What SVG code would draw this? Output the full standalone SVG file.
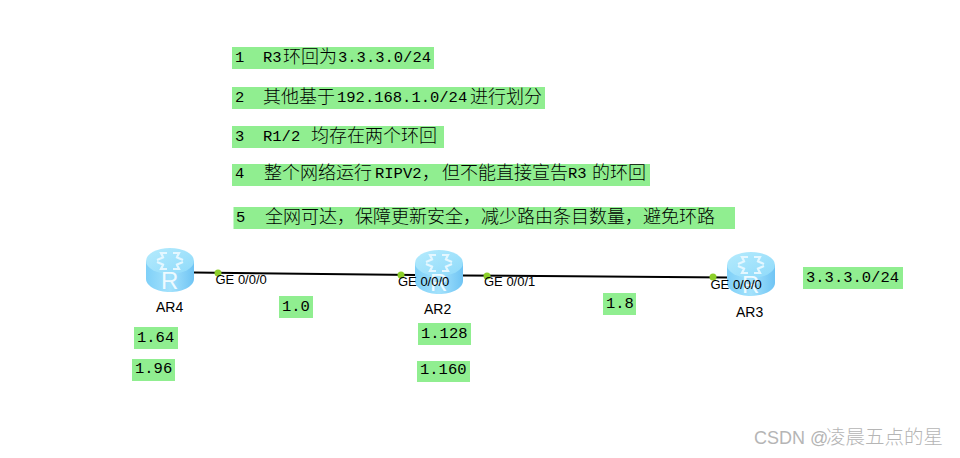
<svg xmlns="http://www.w3.org/2000/svg" xmlns:xlink="http://www.w3.org/1999/xlink" width="960" height="458" viewBox="0 0 960 458">
<style>
.hl{fill:#90ee90}
.m{font-family:"Liberation Mono","Noto Sans CJK SC",monospace;font-size:15.5px;fill:#000}
.c{font-family:"Noto Sans CJK SC","Liberation Mono",sans-serif;font-size:18px;font-weight:300;fill:#000}
.s{font-family:"Liberation Sans",Arial,sans-serif;fill:#000}
.ge{font-size:13px}
.ar{font-size:14px}
.link{stroke:#000;stroke-width:2;fill:none}
.dot{fill:#8ccf2a}
.wm{font-family:"Liberation Sans","Noto Sans CJK SC",sans-serif;font-size:18px;fill:#b5b5b5}
.wc{font-size:19.5px;font-weight:300}
.arw{fill:none;stroke:#e4f7ff;stroke-width:2.2}
.rl{font-family:"Liberation Sans",Arial,sans-serif;font-size:24px;fill:#eefaff}
</style>
<defs>
<linearGradient id="body" x1="0" x2="1" y1="0" y2="0">
<stop offset="0" stop-color="#7fd0f8"/><stop offset="0.5" stop-color="#a4e2fc"/><stop offset="1" stop-color="#6fc4f4"/>
</linearGradient>
<linearGradient id="top" x1="0" x2="1" y1="0" y2="1">
<stop offset="0" stop-color="#b5ebfd"/><stop offset="1" stop-color="#8fdafa"/>
</linearGradient>
<g id="router">
<path d="M0 13V31C0 38 11 44 24 44S48 38 48 31V13Z" fill="url(#body)"/>
<ellipse cx="24" cy="13" rx="24" ry="13" fill="url(#top)"/>
<path class="arw" d="M21 5h-6l2 4M27 5h6l-2 4M11 12l7-3M37 12l-7-3M21 21h-6l2-4M27 21h6l-2-4M11 14l7 3M37 14l-7 3"/>
<text class="rl" x="15" y="41">R</text>
</g>
</defs>
<rect width="960" height="458" fill="#fff"/>

<g id="connectors">
<path class="link" d="M194 272.5L415 275"/>
<path class="link" d="M463 275.5L728 277.5"/>
<circle class="dot" cx="218" cy="273" r="3.5"/>
<circle class="dot" cx="401" cy="275" r="3.5"/>
<circle class="dot" cx="487" cy="276" r="3.5"/>
<circle class="dot" cx="713" cy="277" r="3.5"/>
</g>

<g id="note1"><rect class="hl" x="232" y="47" width="202" height="22"/>
<text class="m" x="235" y="62">1</text><text class="m" x="263" y="62">R3</text><text class="c" x="283" y="63">环回为</text><text class="m" x="338" y="62">3.3.3.0/24</text></g>
<g id="note2"><rect class="hl" x="232" y="87" width="313" height="22"/>
<text class="m" x="235" y="102">2</text><text class="c" x="263" y="103">其他基于</text><text class="m" x="337" y="102">192.168.1.0/24</text><text class="c" x="470" y="103">进行划分</text></g>
<g id="note3"><rect class="hl" x="232" y="126" width="212" height="22"/>
<text class="m" x="235" y="141">3</text><text class="m" x="263" y="141">R1/2</text><text class="c" x="311" y="142">均存在两个环回</text></g>
<g id="note4"><rect class="hl" x="232" y="164" width="418" height="22"/>
<text class="m" x="235" y="178">4</text><text class="c" x="264" y="179">整个网络运行</text><text class="m" x="375" y="178">RIPV2</text><text class="c" x="422" y="179">，</text><text class="c" x="442" y="179">但不能直接宣告</text><text class="m" x="568" y="178">R3</text><text class="c" x="592" y="179">的环回</text></g>
<g id="note5"><rect class="hl" x="233.5" y="207" width="501.5" height="22"/>
<text class="m" x="236" y="222">5</text><text class="c" x="265" y="223">全网可达，保障更新安全，减少路由条目数量，避免环路</text></g>

<g id="AR4"><use xlink:href="#router" href="#router" x="146" y="248"/>
<text class="s ar" x="156" y="312">AR4</text>
<text class="s ge" x="215.5" y="284">GE 0/0/0</text></g>
<g id="AR2"><use xlink:href="#router" href="#router" x="415" y="250"/>
<text class="s ar" x="424" y="314">AR2</text>
<text class="s ge" x="398" y="286">GE 0/0/0</text>
<text class="s ge" x="484" y="286">GE 0/0/1</text></g>
<g id="AR3"><use xlink:href="#router" href="#router" x="727" y="252"/>
<text class="s ar" x="736" y="317">AR3</text>
<text class="s ge" x="710.5" y="289">GE 0/0/0</text></g>

<g id="net1"><rect class="hl" x="279" y="296" width="34" height="22"/><text class="m" x="282" y="311">1.0</text></g>
<g id="net2"><rect class="hl" x="134" y="327" width="44" height="22"/><text class="m" x="137" y="342">1.64</text></g>
<g id="net3"><rect class="hl" x="132" y="359" width="43" height="22"/><text class="m" x="135" y="373">1.96</text></g>
<g id="net4"><rect class="hl" x="418" y="323" width="53" height="22"/><text class="m" x="421" y="338">1.128</text></g>
<g id="net5"><rect class="hl" x="417" y="361" width="53" height="21"/><text class="m" x="420" y="374">1.160</text></g>
<g id="net6"><rect class="hl" x="603" y="293" width="33" height="22"/><text class="m" x="606" y="308">1.8</text></g>
<g id="net7"><rect class="hl" x="803" y="267" width="100" height="22"/><text class="m" x="806" y="282">3.3.3.0/24</text></g>

<text class="wm" x="754" y="444">CSDN @<tspan class="wc" x="826">凌晨五点的星</tspan></text>
</svg>
